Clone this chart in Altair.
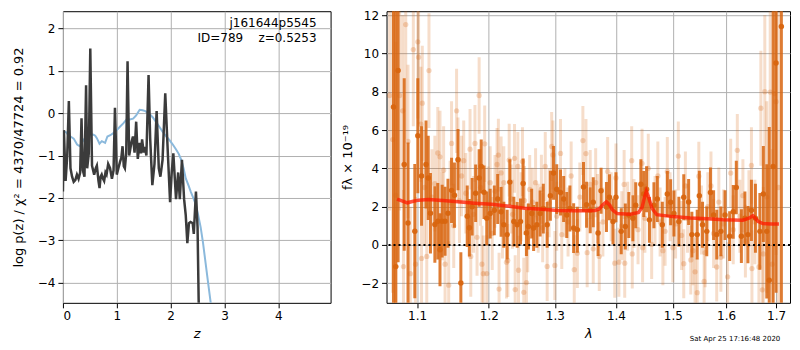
import altair as alt
import pandas as pd

FONT = "DejaVu Sans"

# ---------------- Left panel: log p(z) and scaled chi2 ----------------
z_pz = [0.00, 0.018, 0.05, 0.08, 0.11, 0.14, 0.17, 0.20, 0.23, 0.26, 0.29, 0.32, 0.345, 0.37, 0.40,
        0.43, 0.45, 0.48, 0.508, 0.54, 0.58, 0.61, 0.63, 0.66, 0.68, 0.70, 0.72, 0.745, 0.765, 0.79,
        0.81, 0.84, 0.875, 0.91, 0.94, 0.966, 1.00, 1.03, 1.06, 1.085, 1.107, 1.13, 1.15, 1.175, 1.20,
        1.23, 1.25, 1.27, 1.30, 1.33, 1.36, 1.39, 1.425, 1.45, 1.47, 1.50, 1.52, 1.55, 1.59, 1.62,
        1.66, 1.70, 1.74, 1.78, 1.81, 1.85, 1.90, 1.95, 1.99, 2.02, 2.05, 2.10, 2.14, 2.17, 2.21,
        2.25, 2.28, 2.31, 2.34, 2.37, 2.41, 2.43, 2.47, 2.50, 2.52, 2.55]
logp_pz = [-1.85, -0.40, -1.60, -1.00, 0.29, -1.30, -1.50, -1.62, -1.58, -1.45, -1.55, -1.40, -0.12, -1.35, -1.50,
           0.66, -1.30, -0.95, 1.53, -1.24, -1.45, -1.30, -1.24, -1.60, -1.77, -1.50, -1.45, -1.55, -1.60, -1.40,
           -1.45, -1.20, -1.30, -1.55, -1.35, 0.13, -1.45, -1.30, -1.15, -1.05, -0.78, -1.25, -1.30, -0.95, 1.23,
           -1.00, -0.85, -0.70, -0.55, -0.93, -0.20, -1.08, -0.70, -0.95, -0.62, -0.93, -0.80, -1.00, 0.90, -0.60,
           -1.70, -1.20, 0.05, -1.30, -1.50, -1.10, 0.47, -1.00, -2.10, -1.40, -0.95, -2.03, -1.40, -2.03, -1.10,
           -2.03, -2.40, -3.07, -2.60, -2.57, -2.60, -2.85, -1.85, -2.70, -4.40, -6.00]
z_chi = [0.018, 0.06, 0.10, 0.141, 0.20, 0.263, 0.312, 0.35, 0.385, 0.42, 0.459, 0.52, 0.569, 0.60,
         0.630, 0.679, 0.722, 0.783, 0.826, 0.88, 0.936, 1.00, 1.058, 1.12, 1.180, 1.24, 1.303, 1.36,
         1.425, 1.48, 1.529, 1.609, 1.67, 1.731, 1.79, 1.853, 1.92, 1.976, 2.04, 2.098, 2.15, 2.190,
         2.24, 2.281, 2.33, 2.373, 2.42, 2.465, 2.51, 2.557, 2.60, 2.648, 2.70, 2.740, 2.78]
chi_pz = [-0.43, -0.45, -0.52, -0.55, -0.60, -0.74, -0.78, -0.70, -0.63, -0.57, -0.53, -0.50, -0.51, -0.53,
          -0.59, -0.72, -0.66, -0.70, -0.55, -0.52, -0.47, -0.40, -0.32, -0.24, -0.15, -0.15, -0.13, -0.05,
          0.08, 0.07, 0.05, -0.02, -0.10, -0.21, -0.32, -0.44, -0.55, -0.63, -0.74, -0.85, -0.96, -1.08,
          -1.30, -1.54, -1.70, -1.85, -2.00, -2.15, -2.40, -2.69, -3.05, -3.53, -4.05, -4.44, -4.90]
z_ticks = [0, 1, 2, 3, 4]
logp_ticks = [-4, -3, -2, -1, 0, 1, 2]
label_obj = ["j161644p5545"]
label_id = ["ID=789\u00a0\u00a0\u00a0\u00a0z=0.5253"]

# ---------------- Right panel: spectrum ----------------
lam_bin = [1.069, 1.072, 1.075, 1.083, 1.088, 1.097, 1.101, 1.106, 1.112, 1.115, 1.118, 1.124, 1.128, 1.131,
           1.134, 1.138, 1.142, 1.147, 1.151, 1.156, 1.160, 1.169, 1.172, 1.176, 1.181, 1.186, 1.189, 1.193,
           1.197, 1.202, 1.208, 1.213, 1.218, 1.222, 1.227, 1.231, 1.237, 1.242, 1.247, 1.251, 1.256, 1.259,
           1.264, 1.267, 1.272, 1.277, 1.282, 1.288, 1.293, 1.298, 1.303, 1.309, 1.314, 1.319, 1.324, 1.330,
           1.336, 1.346, 1.351, 1.357, 1.362, 1.370, 1.375, 1.384, 1.389, 1.395, 1.400, 1.409, 1.416, 1.422,
           1.429, 1.434, 1.443, 1.448, 1.453, 1.458, 1.466, 1.472, 1.481, 1.490, 1.496, 1.502, 1.511, 1.520,
           1.529, 1.535, 1.545, 1.549, 1.555, 1.563, 1.570, 1.576, 1.582, 1.590, 1.598, 1.607, 1.614, 1.620,
           1.630, 1.637, 1.643, 1.650, 1.658, 1.667, 1.674, 1.681, 1.686, 1.694, 1.700, 1.711]
flux_bin = [7.2, -1.13, 9.1, 4.2, 1.15, 0.72, 5.7, 3.6, 4.2, 3.5, 1.66, 1.07, 1.24, -0.25,
            1.24, 1.24, 1.66, 2.85, 2.6, 4.45, -1.98, 1.5, 0.9, 2.0, 2.7, 3.5, 4.1, 2.75,
            1.39, 1.64, 1.81, 2.40, 1.73, 1.05, 0.54, 3.28, 1.22, 1.05, 1.22, 3.21, 0.63, 0.97,
            1.64, 0.88, 1.05, 1.64, 1.9, 1.05, 2.57, 3.76, 2.91, 2.74, 2.40, 1.56, 1.9, 0.88,
            0.80, 3.03, 2.1, 1.81, 2.23, 0.63, 2.83, 1.98, 2.49, 1.22, 2.49, 0.71, 0.97, 1.56,
            1.39, 2.07, 3.17, 2.66, 2.91, 1.31, 2.07, 2.40, 1.05, 2.66, 2.23, 1.64, 1.22, 2.49,
            2.24, 0.54, 0.54, 2.57, 1.05, 0.71, 2.74, 1.56, 0.54, 0.71, 1.56, 0.46, 1.73, 3.0,
            0.46, 1.39, 0.54, 1.81, 1.39, 0.71, 2.66, 0.71, -1.84, 4.1, 9.5, 11.4]
err_bin = [12, 15, 10, 4.5, 4.2, 3.5, 3.0, 2.6, 2.3, 2.2, 2.1, 2.0, 2.0, 1.9,
           1.9, 1.8, 1.8, 1.7, 1.7, 1.6, 1.6, 1.6, 1.5, 1.5, 1.5, 1.5, 1.4, 1.4,
           1.4, 1.3, 1.3, 1.3, 1.3, 1.2, 1.3, 1.2, 1.3, 1.2, 1.2, 1.3, 1.2, 1.2,
           1.3, 1.2, 1.2, 1.2, 1.3, 1.2, 1.3, 1.4, 1.3, 1.2, 1.2, 1.2, 1.2, 1.3,
           1.2, 1.3, 1.2, 1.2, 1.3, 1.2, 1.2, 1.3, 1.2, 1.2, 1.3, 1.2, 1.2, 1.2,
           1.2, 1.2, 1.3, 1.2, 1.2, 1.2, 1.2, 1.2, 1.2, 1.2, 1.2, 1.2, 1.3, 1.2,
           1.2, 1.2, 1.3, 1.3, 1.2, 1.3, 1.3, 1.3, 1.3, 1.3, 1.3, 1.3, 1.4, 1.4,
           1.4, 1.4, 1.5, 1.6, 1.8, 2.0, 2.5, 3.5, 8, 10, 12, 15]

lam_raw = [1.064, 1.068, 1.072, 1.077, 1.081, 1.082, 1.085, 1.088, 1.091, 1.095, 1.098, 1.101, 1.102, 1.105,
           1.106, 1.107, 1.110, 1.113, 1.116, 1.120, 1.124, 1.128, 1.131, 1.134, 1.136, 1.138, 1.143, 1.145,
           1.147, 1.150, 1.154, 1.156, 1.158, 1.161, 1.164, 1.167, 1.173, 1.174, 1.178, 1.180, 1.183, 1.186,
           1.188, 1.190, 1.192,
           1.194, 1.197, 1.199, 1.202, 1.205, 1.209, 1.212, 1.214, 1.215, 1.218, 1.220, 1.222, 1.226, 1.228,
           1.230, 1.233, 1.235, 1.238, 1.239, 1.243, 1.244, 1.248, 1.250, 1.252, 1.253, 1.256, 1.258, 1.261,
           1.265, 1.270, 1.274, 1.279, 1.281, 1.285, 1.288, 1.291, 1.295, 1.297, 1.300, 1.303, 1.309, 1.311,
           1.316, 1.321, 1.326, 1.331, 1.336, 1.340, 1.345,
           1.350, 1.352, 1.357, 1.362, 1.366, 1.369, 1.372, 1.378, 1.386, 1.392, 1.398, 1.400, 1.405, 1.410,
           1.414, 1.415, 1.420, 1.427, 1.428, 1.431, 1.438, 1.445, 1.446, 1.450, 1.456, 1.462, 1.468, 1.473,
           1.477, 1.482, 1.486, 1.490, 1.495, 1.500, 1.505, 1.510, 1.516, 1.520,
           1.523, 1.527, 1.533, 1.537, 1.541, 1.545, 1.548, 1.553, 1.558, 1.560, 1.565, 1.571, 1.576, 1.582,
           1.586, 1.590, 1.595, 1.603, 1.609, 1.614, 1.622, 1.627, 1.633, 1.638, 1.645, 1.650, 1.651, 1.657,
           1.665, 1.669, 1.672, 1.674, 1.677, 1.681, 1.688, 1.692, 1.697, 1.700, 1.705]
flux_raw = [7.8, 5.5, 2.6, 7.8, 7.0, -1.13, 11.5, 5.4, -1.5, 10.2, -1.0, 10.6, 9.8, 6.3,
            -0.7, 7.4, 3.0, -0.6, 9.1, 2.5, 3.2, 4.8, 4.6, 1.5, 3.9, -1.0, -2.1, 2.2,
            5.3, 1.0, 7.0, 4.45, 2.3, 3.6, 4.4, 2.7, 5.0, -0.6, 1.6, 5.3, 0.4, 7.8,
            3.0, -1.0, -1.5,
            5.28, -1.49, 2.2, 3.25, 0.6, 2.8, 4.2, 4.69, -2.3, 3.76, 1.2, 3.25, -0.9, -0.81,
            4.43, 2.4, 1.6, 4.52, -2.33, 4.1, -1.32, 2.0, 4.35, -2.47, 2.32, -1.96, 0.37, 2.9,
            2.23, 3.25, 1.4, 2.91, 0.9, 4.1, -1.12, 2.2, 5.14, 4.7, -1.07, 1.5, 4.78, 0.54,
            2.2, 1.2, 3.6, -1.29, -0.44, 2.5, 5.45,
            4.77, -0.4, 3.16, -0.2, 3.25, 1.9, -0.6, 1.2, 3.84, 2.0, -0.95, 3.5, -0.9, 1.0,
            3.16, -0.95, 1.5, 4.4, -0.47, 1.64, 0.8, 4.26, -0.14, 1.39, 4.0, 0.03, 1.8, 3.6,
            1.2, -0.3, 0.71, 3.84, 2.0, -0.14, 1.1, 4.64, 0.5, -0.98,
            3.08, 1.4, -0.78, -0.3, -1.4, -2.49, 3.59, 1.3, -1.9, -0.4, 2.0, 3.08, 0.6, -1.15,
            2.24, -0.64, 1.1, -1.66, 3.75, 0.8, 4.94, 1.5, 2.57, 0.2, 1.9, 4.15, -1.23, 1.2,
            -1.15, 7.14, -2.34, -0.47, 8.0, 2.5, 7.98, -1.0, 7.9, 7.48, 3.0]
err_raw = [6, 8, 8, 6, 5, 4, 6, 4, 3.5, 4, 3.5, 4, 3.5, 3,
           3, 3, 3, 2.8, 3, 2.5, 2.5, 2.4, 2.4, 2.3, 2.3, 2.3, 2.3, 2.2,
           2.2, 2.2, 2.2, 2.2, 2.2, 2.1, 2.1, 2.1, 2.1, 2.1, 2.0, 2.0, 2.0, 2.0,
           2.0, 2.0, 2.0,
           2.0, 2.0, 1.9, 1.9, 1.9, 1.9, 1.9, 1.9, 1.9, 1.9, 1.9, 1.9, 1.9, 1.9,
           1.9, 1.8, 1.8, 1.8, 1.8, 1.8, 1.8, 1.8, 1.8, 1.8, 1.8, 1.8, 1.8, 1.8,
           1.8, 1.8, 1.8, 1.8, 1.8, 1.8, 1.8, 1.8, 1.8, 1.8, 1.8, 1.8, 1.8, 1.8,
           1.8, 1.8, 1.8, 1.8, 1.8, 1.8, 1.8,
           1.8, 1.8, 1.8, 1.8, 1.8, 1.8, 1.8, 1.8, 1.8, 1.8, 1.8, 1.8, 1.8, 1.8,
           1.8, 1.8, 1.8, 1.8, 1.8, 1.8, 1.8, 1.8, 1.8, 1.8, 1.8, 1.8, 1.8, 1.8,
           1.8, 1.8, 1.8, 1.8, 1.8, 1.8, 1.8, 1.8, 1.8, 1.8,
           1.8, 1.8, 1.8, 1.8, 1.8, 1.8, 1.8, 1.8, 1.8, 1.8, 1.8, 1.8, 1.8, 1.8,
           1.8, 1.8, 1.8, 1.8, 1.8, 1.8, 1.9, 1.9, 1.9, 1.9, 2.0, 2.0, 2.0, 2.2,
           2.5, 3, 3, 3.5, 4, 5, 6, 6, 8, 8, 10]

lam_model = [1.0736, 1.080, 1.087, 1.095, 1.102, 1.115, 1.135, 1.156, 1.180, 1.204, 1.230, 1.253, 1.280,
             1.304, 1.330, 1.352, 1.365, 1.372, 1.378, 1.384, 1.389, 1.394, 1.402, 1.425, 1.439, 1.445,
             1.449, 1.4526, 1.456, 1.4626, 1.471, 1.500, 1.532, 1.565, 1.594, 1.633, 1.645, 1.653, 1.663,
             1.673, 1.690, 1.706]
flux_model = [2.39, 2.30, 2.20, 2.28, 2.34, 2.37, 2.32, 2.25, 2.18, 2.12, 2.02, 1.92, 1.86,
              1.80, 1.78, 1.78, 1.80, 1.88, 2.10, 2.25, 2.10, 1.83, 1.64, 1.61, 1.70, 1.95,
              2.45, 2.80, 2.55, 1.92, 1.58, 1.48, 1.41, 1.37, 1.32, 1.29, 1.40, 1.53, 1.24,
              1.12, 1.10, 1.10]
lam_ticks = [1.1, 1.2, 1.3, 1.4, 1.5, 1.6, 1.7]
flux_ticks = [-2, 0, 2, 4, 6, 8, 10, 12]
stamp = ["Sat Apr 25 17:16:48 2020"]

assert len(lam_bin) == len(flux_bin) == len(err_bin)
assert len(lam_raw) == len(flux_raw) == len(err_raw)
assert len(z_pz) == len(logp_pz) and len(z_chi) == len(chi_pz)
assert len(lam_model) == len(flux_model)

W1, W2, H = 268, 404, 292
ORANGE = "#d8650f"

# ---------------- Left chart ----------------
pz_df = pd.DataFrame({"z": z_pz, "v": logp_pz})
chi_df = pd.DataFrame({"z": z_chi, "v": chi_pz})
xz = alt.X("z:Q", scale=alt.Scale(domain=[0, 4.97], nice=False, zero=False),
           axis=alt.Axis(values=z_ticks, title="z", titleFontStyle="italic", format="d"))
yz = alt.Y("v:Q", scale=alt.Scale(domain=[-4.48, 2.41], nice=False, zero=False),
           axis=alt.Axis(values=logp_ticks, format="d", titlePadding=12,
                         title="log p(z) / χ² = 4370/47724 = 0.92"))

blue = alt.Chart(chi_df).mark_line(color="#8bb9dc", strokeWidth=2, clip=True).encode(x=xz, y=yz)
dark = alt.Chart(pz_df).mark_line(color="#3b3b3b", strokeWidth=2.5, clip=True,
                                  strokeJoin="miter").encode(x=xz, y=yz)
lbl1 = alt.Chart(pd.DataFrame({"t": label_obj})).mark_text(
    align="right", baseline="middle", fontSize=12, font=FONT, color="black").encode(
    x=alt.value(W1 - 14), y=alt.value(12), text="t:N")
lbl2 = alt.Chart(pd.DataFrame({"t": label_id})).mark_text(
    align="right", baseline="middle", fontSize=12, font=FONT, color="black").encode(
    x=alt.value(W1 - 14), y=alt.value(27), text="t:N")
left = alt.layer(blue, dark, lbl1, lbl2).properties(width=W1, height=H)

# ---------------- Right chart ----------------
bin_df = pd.DataFrame({"lam": lam_bin, "f": flux_bin, "e": err_bin})
bin_df["lo"] = bin_df["f"] - bin_df["e"]
bin_df["hi"] = bin_df["f"] + bin_df["e"]
raw_df = pd.DataFrame({"lam": lam_raw, "f": flux_raw, "e": err_raw})
raw_df["lo"] = raw_df["f"] - raw_df["e"]
raw_df["hi"] = raw_df["f"] + raw_df["e"]
mod_df = pd.DataFrame({"lam": lam_model, "f": flux_model})

xs = alt.Scale(type="log", domain=[1.06, 1.729], nice=False, zero=False)
ys = alt.Scale(domain=[-3.02, 12.2], nice=False, zero=False)
xl = alt.X("lam:Q", scale=xs, axis=alt.Axis(values=lam_ticks, format=".1f", title="λ",
                                            titleFontStyle="italic"))
yl = alt.Y("f:Q", scale=ys, axis=alt.Axis(values=flux_ticks, format="d", title="fλ × 10⁻¹⁹"))
ylo = alt.Y("lo:Q", scale=ys, axis=alt.Axis(values=flux_ticks, format="d", title="fλ × 10⁻¹⁹"))

raw_err = alt.Chart(raw_df).mark_rule(color=ORANGE, opacity=0.22, strokeWidth=3, clip=True).encode(
    x=xl, y=ylo, y2="hi:Q")
raw_pts = alt.Chart(raw_df).mark_circle(color=ORANGE, opacity=0.25, size=28, clip=True).encode(x=xl, y=yl)
bin_err = alt.Chart(bin_df).mark_rule(color=ORANGE, opacity=0.85, strokeWidth=3, clip=True).encode(
    x=xl, y=ylo, y2="hi:Q")
bin_pts = alt.Chart(bin_df).mark_circle(color=ORANGE, opacity=0.95, size=30, clip=True).encode(x=xl, y=yl)
zero = alt.Chart(pd.DataFrame({"f": [0]})).mark_rule(color="black", strokeWidth=2,
                                                     strokeDash=[2, 3]).encode(y=yl)
model = alt.Chart(mod_df).mark_line(color="#ff1a00", opacity=0.75, strokeWidth=3.5, clip=True).encode(x=xl, y=yl)
date = alt.Chart(pd.DataFrame({"t": stamp})).mark_text(fontSize=7, font=FONT, color="black",
                                                       align="center", baseline="middle").encode(
    x=alt.value(W2 - 55), y=alt.value(H + 36), text="t:N")

right = alt.layer(raw_err, raw_pts, bin_err, bin_pts, zero, model, date).properties(width=W2, height=H)

chart = alt.hconcat(left, right, padding={"left": 3, "top": 0, "right": 0, "bottom": 0}
).configure_view(stroke="black", strokeWidth=1).configure_axis(
    grid=True, gridColor="#b0b0b0", gridWidth=1, domain=False, tickColor="black", tickSize=5,
    labelFontSize=12, labelColor="black", labelFont=FONT, titleFont=FONT, titleFontSize=13,
    titleFontWeight="normal", titleColor="black", labelPadding=3, titlePadding=6
).configure_concat(spacing=9)

chart.save("out.html", embed_options={"renderer": "svg", "actions": False})
